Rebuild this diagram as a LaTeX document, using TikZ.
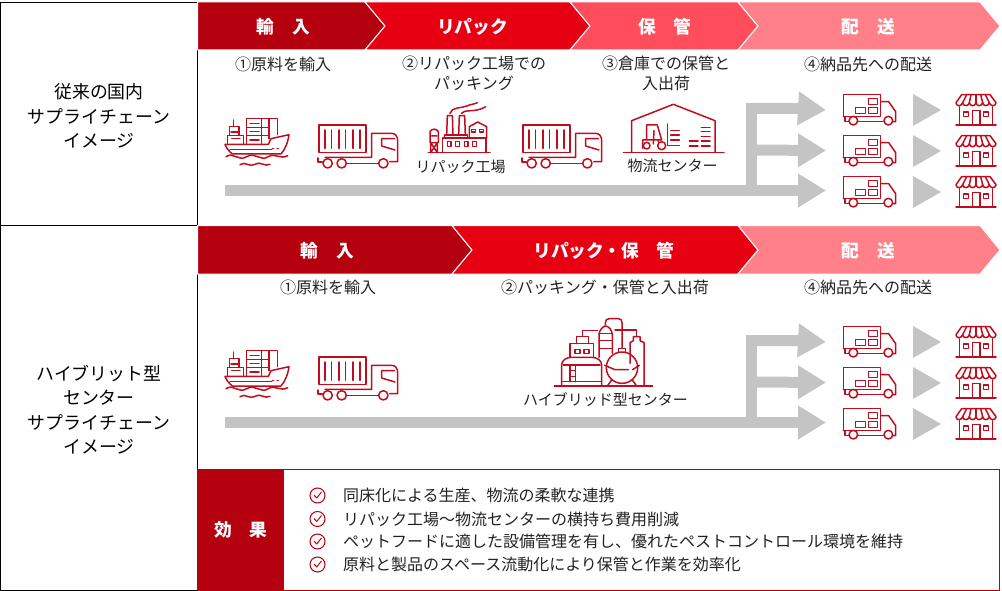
\documentclass[tikz,border=0pt]{standalone}
\usepackage{fontspec}
\setmainfont{Noto Sans CJK JP}
\usepackage{xcolor}
\usetikzlibrary{arrows.meta}
\definecolor{cDark}{RGB}{181,0,15}
\definecolor{cRed}{RGB}{230,0,18}
\definecolor{cMid}{RGB}{255,77,92}
\definecolor{cPale}{RGB}{255,128,137}
\definecolor{cIcon}{RGB}{192,13,30}
\definecolor{cFlow}{RGB}{196,196,196}
\definecolor{cInk}{RGB}{34,34,34}
\tikzset{
	rowlabel/.style={align=center, text=black, font=\fontsize{17.9}{24.4}\selectfont, inner sep=0pt},
	stage/.style={fill, draw=white, line width=1pt},
	stagetext/.style={text=white, font=\fontsize{17.7}{20}\selectfont\bfseries, inner sep=0pt},
	steptext/.style={align=center, text=cInk, font=\fontsize{16}{19.4}\selectfont, inner sep=0pt},
	captext/.style={text=cInk, font=\fontsize{15}{18}\selectfont, inner sep=0pt},
	flowline/.style={cFlow, line width=11pt},
	flowarrow/.style={cFlow, line width=11pt, -{Triangle[length=28pt, width=32pt]}},
	hop/.style={fill=cFlow},
	icon/.style={draw=cIcon, line width=1.5pt, line cap=round, line join=round, fill=none},
	% icons use crop pixels, placed with scale=1/3
	pics/ship/.style={code={
		\draw[icon] (30,103) -- (160,103) -- (168,86) -- (222,74) .. controls (218,100) and (210,118) .. (198,132) -- (52,132) .. controls (40,122) and (33,112) .. (30,103);
		\draw[icon] (45,118) -- (170,118);
		\draw[icon] (38,103) -- (38,76) -- (85,76) -- (85,103);
		\draw[icon] (44,76) -- (44,50) -- (72,50) -- (72,76);
		\draw[icon] (55,50) -- (55,30);
		\draw[icon] (48,66) -- (68,66) (50,86) -- (75,86);
		\draw[icon] (95,103) -- (95,26) -- (188,26) -- (188,74) (95,52) -- (160,52) (95,77) -- (160,77) (140,26) -- (140,100) (162,26) -- (162,86);
		\draw[icon] (105,40) -- (132,40) (105,65) -- (132,65) (105,90) -- (132,90);
		\draw[icon] (172,116) -- (176,116) (186,116) -- (190,116);
		\draw[icon] (33,140) .. controls (55,124) and (70,156) .. (95,140) .. controls (120,124) and (135,156) .. (160,140) .. controls (180,127) and (195,150) .. (218,137);
		\draw[icon] (75,164) .. controls (90,152) and (105,174) .. (120,163) .. controls (135,152) and (150,172) .. (165,163);
	}},
	pics/truck/.style={code={
		\draw[icon] (312,45) rectangle (453,128);
		\foreach \xv in {330,350,372,392,414,435} \draw[icon] (\xv,60) -- (\xv,115);
		\draw[icon] (330,142) -- (470,142) -- (470,70) -- (530,70) .. controls (542,70) and (548,80) .. (548,92) -- (548,155) -- (524,155);
		\draw[icon] (538,86) -- (500,86) -- (500,108) -- (540,120);
		\draw[icon] (394,160) -- (490,160);
		\draw[icon] (309,144) -- (309,156) -- (322,156);
		\foreach \xv in {338,380,505} \draw[icon] (\xv,160) circle (14);
	}},
	pics/factory/.style={code={
		\draw[icon] (685,458) -- (870,458);
		\draw[icon] (728,458) -- (728,414) -- (858,414) -- (858,458);
		\draw[icon] (733,414) -- (733,405) -- (802,405) -- (802,414);
		\draw[icon] (740,405) -- (742,347) -- (757,347) -- (759,405);
		\draw[icon] (776,405) -- (778,347) -- (794,347) -- (796,405);
		\draw[icon] (808,414) -- (808,380) -- (833,366) -- (860,380) -- (860,414);
		\draw[icon] (815,388) rectangle (826,396) (838,388) rectangle (850,396);
		\foreach \xv in {742,767,793,818} \draw[icon] (\xv,425) rectangle (\xv+11,440);
		\draw[icon] (692,458) -- (692,428) -- (712,428) -- (712,458) (692,428) -- (712,458) (712,428) -- (692,458);
		\draw[icon] (690,428) -- (690,395) .. controls (695,385) and (710,385) .. (715,395) -- (715,428) (695,408) -- (710,408);
		\draw[icon] (750,340) .. controls (755,320) and (785,325) .. (800,318) .. controls (812,313) and (825,312) .. (832,308);
		\draw[icon] (785,340) .. controls (795,328) and (815,335) .. (830,330) .. controls (842,327) and (850,326) .. (857,320);
	}},
	pics/depot/.style={code={
		\draw[icon] (70,457) -- (372,457);
		\draw[icon] (95,457) -- (95,362) -- (220,313) -- (345,362) -- (345,457);
		\draw[icon] (140,420) -- (140,375) -- (172,375) -- (185,420) -- (128,420) -- (128,445);
		\draw[icon] (160,432) -- (162,392) (175,420) -- (175,425);
		\draw[icon] (140,437) circle (10) (185,437) circle (12);
		\draw[icon] (202,372) -- (202,436) -- (238,436);
		\foreach \yv in {392,405,420} \draw[icon] (212,\yv) -- (238,\yv);
		\foreach \yv in {382,395,410,423,438} \draw[icon] (304,\yv) -- (330,\yv);
		\foreach \yv in {423,438} \draw[icon] (268,\yv) -- (294,\yv);
	}},
	pics/plant/.style={code={
		\draw[icon] (163,258) -- (458,258);
		\draw[icon] (185,258) -- (185,195) .. controls (185,180) and (200,172) .. (215,172) -- (275,172) .. controls (292,172) and (305,182) .. (305,195) -- (305,258);
		\draw[icon] (190,195) -- (300,195) (188,245) -- (305,245);
		\draw[icon] (210,195) -- (210,245) (226,195) -- (226,245) (210,212) -- (226,212) (210,230) -- (226,230);
		\draw[icon] (210,172) -- (210,130) -- (280,130) -- (280,172) (230,130) -- (230,110) -- (265,110) -- (265,130);
		\draw[icon] (225,148) rectangle (240,160) (252,148) rectangle (267,160);
		\draw[icon] (297,172) -- (297,105) .. controls (297,90) and (310,78) .. (317,78) .. controls (325,78) and (337,90) .. (337,105) -- (337,160);
		\foreach \yv in {100,122,145} \draw[icon] (297,\yv) -- (337,\yv);
		\draw[icon] (316,75) -- (316,68) .. controls (316,60) and (320,56) .. (328,56) -- (355,56) .. controls (362,56) and (366,60) .. (366,68) -- (366,143);
		\draw[icon] (247,108) -- (247,92) -- (293,92) (345,90) -- (410,90) -- (410,108);
		\draw[icon] (390,190) -- (390,128) -- (400,122) -- (400,110) -- (420,110) -- (420,122) -- (432,128) -- (432,258);
		\draw[icon] (366,203) circle (47);
		\draw[icon] (355,155) -- (355,145) -- (377,145) -- (377,155);
		\draw[icon] (314,196) -- (345,209) -- (385,209) (398,209) -- (418,196);
		\draw[icon] (335,240) -- (322,258) (397,240) -- (410,258);
	}},
	pics/van/.style={code={
		\draw[icon] (730,350) -- (730,283) -- (842,283) -- (842,350) -- (730,350);
		\draw[icon] (806,296) rectangle (833,313) (766,322) rectangle (796,341) (806,322) rectangle (833,341);
		\draw[icon] (842,305) -- (866,305) -- (887,335) -- (887,365) -- (878,365);
		\draw[icon] (735,350) -- (735,365) -- (748,365) (772,365) -- (852,365);
		\draw[icon] (760,362) circle (13) (865,362) circle (13);
	}},
	pics/shop/.style={code={
		\draw[icon] (1068,375) -- (1188,375);
		\draw[icon] (1079,320) -- (1079,375) (1177,320) -- (1177,375);
		\draw[icon] (1117,375) -- (1117,332) -- (1140,332) -- (1140,375);
		\draw[icon] (1091,336) rectangle (1105,350) (1151,336) rectangle (1165,350);
		\draw[icon] (1085,284) -- (1170,284) -- (1188,308) .. controls (1188,320) and (1170,320) .. (1168,308) .. controls (1165,320) and (1150,320) .. (1148,308) .. controls (1145,320) and (1130,320) .. (1128,308) .. controls (1125,320) and (1110,320) .. (1108,308) .. controls (1105,320) and (1090,320) .. (1088,308) .. controls (1085,320) and (1068,320) .. (1068,308) -- cycle;
		\foreach \xa/\xb in {1100/1088,1113/1108,1128/1128,1142/1148,1156/1168} \draw[icon] (\xa,284) -- (\xb,308);
	}},
	pics/tickmark/.style={code={
		\draw[cDark, line width=1pt] (0,0) circle (7.5);
		\draw[cDark, line width=1pt, line join=round] (-3.5,-0.5) -- (-0.8,2.5) -- (4,-3.5);
	}},
}
\begin{document}
\begin{tikzpicture}[x=1pt, y=-1pt]
	\useasboundingbox (0,0) rectangle (1002,591);
	% frame
	\draw[line width=0.9pt] (0,2) -- (197,2) (0,225) -- (197,225) (0,590.5) -- (197,590.5) (0.4,2) -- (0.4,590.5) (197,2) -- (197,590.5);
	% stages, upper row
	\path[stage, fill=cDark] (197.5,2) -- (365,2) -- (385,26) -- (365,50) -- (197.5,50) -- cycle;
	\foreach \xa/\xb/\cc in {365/570/cRed, 570/738/cMid, 738/980/cPale}
		\path[stage, fill=\cc] (\xa,2) -- (\xb,2) -- (\xb+20,26) -- (\xb,50) -- (\xa,50) -- (\xa+20,26) -- cycle;
	\node[stagetext] (inyu) at (283.5,26.5) {輸　入};
	\node[stagetext] (repack) at (472.5,26.5) {リパック};
	\node[stagetext] (hokan) at (665,26.5) {保　管};
	\node[stagetext] (haiso) at (868.5,26.5) {配　送};
	% stages, lower row
	\path[stage, fill=cDark] (197.5,225.5) -- (452,225.5) -- (472,250) -- (452,274) -- (197.5,274) -- cycle;
	\foreach \xa/\xb/\cc in {452/738/cRed, 738/980/cPale}
		\path[stage, fill=\cc] (\xa,225.5) -- (\xb,225.5) -- (\xb+20,250) -- (\xb,274) -- (\xa,274) -- (\xa+20,250) -- cycle;
	\node[stagetext] (inyub) at (327.5,250.5) {輸　入};
	\node[stagetext] (repackb) at (604,250.5) {リパック・保　管};
	\node[stagetext] (haisob) at (868.5,250.5) {配　送};
	% side labels
	\node[rowlabel] (oldrow) at (99,116) {従来の国内\\サプライチェーン\\イメージ};
	\node[rowlabel] (newrow) at (99,409.5) {ハイブリット型\\センター\\サプライチェーン\\イメージ};
	% step texts
	\node[steptext] (stepa) at (283,64) {①原料を輸入};
	\node[steptext] (stepb) at (474,73.5) {②リパック工場での\\パッキング};
	\node[steptext] (stepc) at (666,73.5) {③倉庫での保管と\\入出荷};
	\node[steptext] (stepd) at (868,64) {④納品先への配送};
	\node[steptext] (stepe) at (328,287) {①原料を輸入};
	\node[steptext] (stepf) at (605,287) {②パッキング・保管と入出荷};
	\node[steptext] (stepg) at (868,287) {④納品先への配送};
	\node[captext] (capfac) at (460.5,166.5) {リパック工場};
	\node[captext] (capdep) at (672.5,166) {物流センター};
	\node[captext] (capplant) at (605.5,400) {ハイブリッド型センター};
	% flow arrows
	\foreach \yo/\nm in {0/a, 232/b} {
		\coordinate (start\nm) at (225,190.5+\yo);
		\coordinate (turn\nm) at (751.5,190.5+\yo);
		\coordinate (knee\nm) at (751.5,108.5+\yo);
		\coordinate (midj\nm) at (751.5,150+\yo);
		\coordinate (outa\nm) at (826,110+\yo);
		\coordinate (outb\nm) at (826,150.5+\yo);
		\coordinate (outc\nm) at (826,190.5+\yo);
		\draw[flowarrow] (start\nm) -- (outc\nm);
		\draw[flowarrow] (midj\nm) -- (outb\nm);
		\draw[flowline] (turn\nm) -- (knee\nm);
		\draw[flowarrow] (746,108.5+\yo) -- (800,108.5+\yo) -- (outa\nm);
		% delivery vans and shops
		\foreach \yr in {0,41,82} {
			\fill[hop] (913,94+\yo+\yr) -- (941,110+\yo+\yr) -- (913,126+\yo+\yr) -- cycle;
			\pic[scale=1/3] at (600,\yo+\yr) {van};
			\pic[scale=1/3] at (600,\yo+\yr) {shop};
		}
		\pic[scale=1/3] at (215,110+\yo) {ship};
		\pic[scale=1/3] at (215,110+\yo) {truck};
	}
	\pic[scale=1/3] at (200,0) {factory};
	\pic[scale=1/3] at (419,110) {truck};
	\pic[scale=1/3] at (600,0) {depot};
	\pic[scale=1/3] at (500,300) {plant};
	% effects box
	\draw[cDark, line width=0.9pt] (197,469.5) rectangle (999.7,590.5);
	\fill[cDark] (197,469) rectangle (284,591);
	\node[stagetext] (kouka) at (241,530) {効　果};
	\foreach \yv/\tx/\nm in {495.5/同床化による生産、物流の柔軟な連携/ea, 519/リパック工場～物流センターの横持ち費用削減/eb, 541.5/ペットフードに適した設備管理を有し、優れたペストコントロール環境を維持/ec, 564.5/原料と製品のスペース流動化により保管と作業を効率化/ed} {
		\pic at (317.5,\yv) {tickmark};
		\node[steptext, anchor=west] (\nm) at (343,\yv) {\tx};
	}
\end{tikzpicture}
\end{document}
